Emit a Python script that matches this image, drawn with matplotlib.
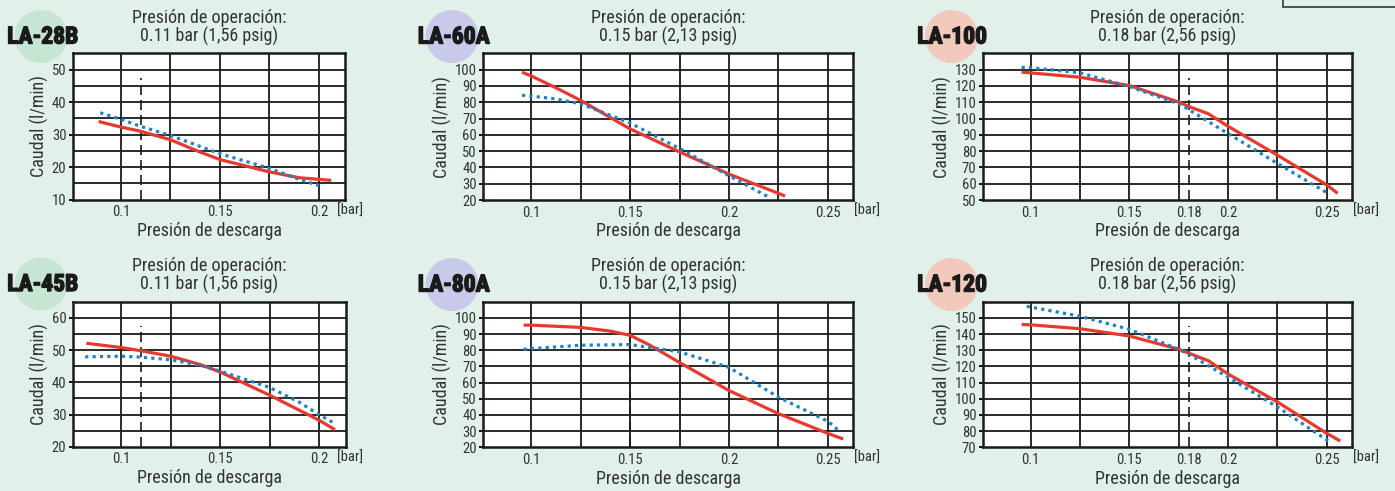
import numpy as np
import matplotlib.pyplot as plt
import matplotlib.patheffects as pe
from matplotlib.patches import Circle, Rectangle

W, H = 1395, 491
plt.rcParams['font.family'] = ['Roboto Condensed', 'Archivo Narrow', 'PT Sans Narrow', 'DejaVu Sans']

# --- Data ---
models = ['LA-28B', 'LA-60A', 'LA-100', 'LA-45B', 'LA-80A', 'LA-120']
op_text = ['0.11 bar (1,56 psig)', '0.15 bar (2,13 psig)', '0.18 bar (2,56 psig)',
           '0.11 bar (1,56 psig)', '0.15 bar (2,13 psig)', '0.18 bar (2,56 psig)']
op_bar = [0.11, 0.15, 0.18, 0.11, 0.15, 0.18]

x_ticks = [[0.1, 0.15, 0.2], [0.1, 0.15, 0.2, 0.25], [0.1, 0.15, 0.18, 0.2, 0.25],
           [0.1, 0.15, 0.2], [0.1, 0.15, 0.2, 0.25], [0.1, 0.15, 0.18, 0.2, 0.25]]
y_ticks = [[10, 20, 30, 40, 50],
           [20, 30, 40, 50, 60, 70, 80, 90, 100],
           [50, 60, 70, 80, 90, 100, 110, 120, 130],
           [20, 30, 40, 50, 60],
           [20, 30, 40, 50, 60, 70, 80, 90, 100],
           [70, 80, 90, 100, 110, 120, 130, 140, 150]]
y_lims = [(10, 55), (20, 110), (50, 140), (20, 65), (20, 110), (70, 160)]
y_step = [5, 10, 10, 5, 10, 10]
x_lims = [(0.0757, 0.2133), (0.0757, 0.2626), (0.0757, 0.2626),
          (0.0757, 0.2133), (0.0757, 0.2626), (0.0757, 0.2626)]

la28b_red_x = [0.0888, 0.10, 0.11, 0.125, 0.14, 0.15, 0.175, 0.19, 0.20, 0.2062]
la28b_red_y = [34.0, 32.3, 31.0, 28.4, 24.6, 22.3, 18.5, 16.7, 16.2, 15.9]
la28b_blue_x = [0.0896, 0.10, 0.11, 0.125, 0.15, 0.175, 0.19, 0.20]
la28b_blue_y = [36.7, 34.7, 32.5, 29.7, 24.1, 19.6, 16.2, 14.3]

la60a_red_x = [0.0953, 0.10, 0.1125, 0.125, 0.15, 0.175, 0.20, 0.225, 0.2284]
la60a_red_y = [98.4, 96.1, 88.8, 81.1, 63.6, 49.5, 35.9, 24.1, 22.4]
la60a_blue_x = [0.0953, 0.10, 0.1125, 0.125, 0.15, 0.175, 0.20, 0.2198]
la60a_blue_y = [84.3, 83.7, 82.0, 79.0, 67.2, 51.6, 34.9, 22.0]

la100_red_x = [0.0954, 0.10, 0.125, 0.15, 0.175, 0.18, 0.19, 0.20, 0.225, 0.25, 0.2555]
la100_red_y = [128.4, 128.0, 125.3, 120.2, 110.1, 107.4, 102.9, 95.2, 77.5, 59.2, 54.1]
la100_blue_x = [0.0954, 0.10, 0.125, 0.15, 0.175, 0.18, 0.20, 0.225, 0.2514]
la100_blue_y = [131.4, 131.2, 128.0, 119.6, 109.0, 105.5, 90.7, 72.4, 53.5]

la45b_red_x = [0.0826, 0.10, 0.11, 0.125, 0.14, 0.15, 0.175, 0.20, 0.2079]
la45b_red_y = [52.1, 50.8, 49.8, 48.1, 45.5, 43.2, 36.0, 28.2, 25.3]
la45b_blue_x = [0.082, 0.10, 0.11, 0.125, 0.14, 0.15, 0.175, 0.19, 0.20, 0.2076]
la45b_blue_y = [47.9, 48.1, 47.8, 47.0, 45.3, 43.5, 38.4, 33.8, 29.9, 27.3]

la80a_red_x = [0.0961, 0.10, 0.125, 0.14, 0.15, 0.16, 0.175, 0.20, 0.225, 0.25, 0.2578]
la80a_red_y = [95.5, 95.5, 94.1, 91.8, 89.2, 83.1, 72.4, 55.1, 40.8, 28.6, 25.1]
la80a_blue_x = [0.0961, 0.10, 0.125, 0.15, 0.175, 0.20, 0.225, 0.25, 0.2553]
la80a_blue_y = [80.6, 81.0, 83.1, 83.5, 79.0, 69.4, 51.0, 36.1, 30.6]

la120_red_x = [0.0954, 0.10, 0.125, 0.15, 0.175, 0.18, 0.19, 0.20, 0.225, 0.25, 0.2568]
la120_red_y = [145.9, 145.7, 143.3, 138.8, 130.6, 128.2, 123.5, 115.3, 98.0, 78.6, 73.9]
la120_blue_x = [0.098, 0.10, 0.125, 0.15, 0.175, 0.18, 0.20, 0.225, 0.2517]
la120_blue_y = [157.1, 156.7, 151.0, 142.9, 130.6, 127.6, 113.3, 94.9, 73.1]

red_x = [la28b_red_x, la60a_red_x, la100_red_x, la45b_red_x, la80a_red_x, la120_red_x]
red_y = [la28b_red_y, la60a_red_y, la100_red_y, la45b_red_y, la80a_red_y, la120_red_y]
blue_x = [la28b_blue_x, la60a_blue_x, la100_blue_x, la45b_blue_x, la80a_blue_x, la120_blue_x]
blue_y = [la28b_blue_y, la60a_blue_y, la100_blue_y, la45b_blue_y, la80a_blue_y, la120_blue_y]

# --- Layout (pixels: left, right, top, bottom) ---
boxes = [(72.7, 345.3, 53.3, 199.5), (483.3, 852.7, 53.3, 200), (982.7, 1351.7, 53.3, 200),
         (72.7, 345.7, 301.7, 446.8), (483.3, 852.7, 301.7, 447.3), (982.7, 1351.7, 301.7, 447.3)]
circle_xy = [(41, 36.5), (452, 36.5), (951.5, 36.5), (41, 284), (452, 284.5), (951.5, 284.5)]
circle_col = ['#c6e6d3', '#c9c9e9', '#f2c9bd', '#c6e6d3', '#c9c9e9', '#f2c9bd']
bar_pos = [0.968, 1.003, 1.003, 0.968, 1.003, 1.003]

BG = '#e1f0e9'
RED = '#e8392e'
BLUE = '#1d82c6'
TXT = '#333333'

fig = plt.figure(figsize=(W / 100, H / 100), dpi=100, facecolor=BG)

# decoration layer in pixel coords
deco = fig.add_axes([0, 0, 1, 1], zorder=-1)
deco.set_xlim(0, W)
deco.set_ylim(H, 0)
deco.axis('off')
deco.add_patch(Rectangle((1283, -5), 130, 12, facecolor=BG, edgecolor='#444444', lw=1.3))

for i in range(6):
    l, r, t, b = boxes[i]
    ax = fig.add_axes([l / W, 1 - b / H, (r - l) / W, (b - t) / H])
    ax.set_facecolor('white')
    x0, x1 = x_lims[i]
    y0, y1 = y_lims[i]
    ax.set_xlim(x0, x1)
    ax.set_ylim(y0, y1)

    # grid
    for gx in np.arange(0.1, x1 - 0.001, 0.025):
        ax.axvline(gx, color='#1a1a1a', lw=1.3, zorder=1)
    for gy in np.arange(y0 + y_step[i], y1 - 0.01, y_step[i]):
        ax.axhline(gy, color='#1a1a1a', lw=1.3, zorder=1)
    ax.axvline(op_bar[i], ymax=0.83, color='#1a1a1a', lw=1.2, dashes=(6, 3), zorder=2)

    ax.plot(red_x[i], red_y[i], color=RED, lw=2.3, zorder=3, solid_capstyle='butt')
    ax.plot(blue_x[i], blue_y[i], color=BLUE, lw=2.3, dashes=(1, 1.3), zorder=4)

    for s in ax.spines.values():
        s.set_linewidth(1.8)
        s.set_color('#1a1a1a')

    ax.set_xticks(x_ticks[i])
    ax.set_xticklabels([f'{v:g}' for v in x_ticks[i]])
    ax.set_yticks(y_ticks[i])
    ax.tick_params(axis='x', length=0, pad=4, labelsize=10.5, labelcolor=TXT)
    ax.tick_params(axis='y', length=3, width=1.3, pad=1.5, labelsize=10.5, labelcolor=TXT)
    ax.text(bar_pos[i], -0.075, '[bar]', transform=ax.transAxes, ha='left', va='center',
            fontsize=10.5, color=TXT)
    ax.set_xlabel('Presión de descarga', fontsize=13, color=TXT, labelpad=2)
    ax.set_ylabel('Caudal (l/min)', fontsize=13, color=TXT, labelpad=2)
    ax.set_title('Presión de operación:\n' + op_text[i], fontsize=13, color=TXT,
                 linespacing=0.98, pad=8.5)

    cx, cy = circle_xy[i]
    deco.add_patch(Circle((cx, cy), 26.5, facecolor=circle_col[i], edgecolor='none'))
    deco.text(l - 65.5, cy + 0.5, models[i], ha='left', va='center', fontsize=17,
              fontweight='bold', color='#1a1a1a',
              path_effects=[pe.withStroke(linewidth=1.0, foreground='#1a1a1a')])

fig.savefig('out.png', dpi=100, facecolor=BG)
